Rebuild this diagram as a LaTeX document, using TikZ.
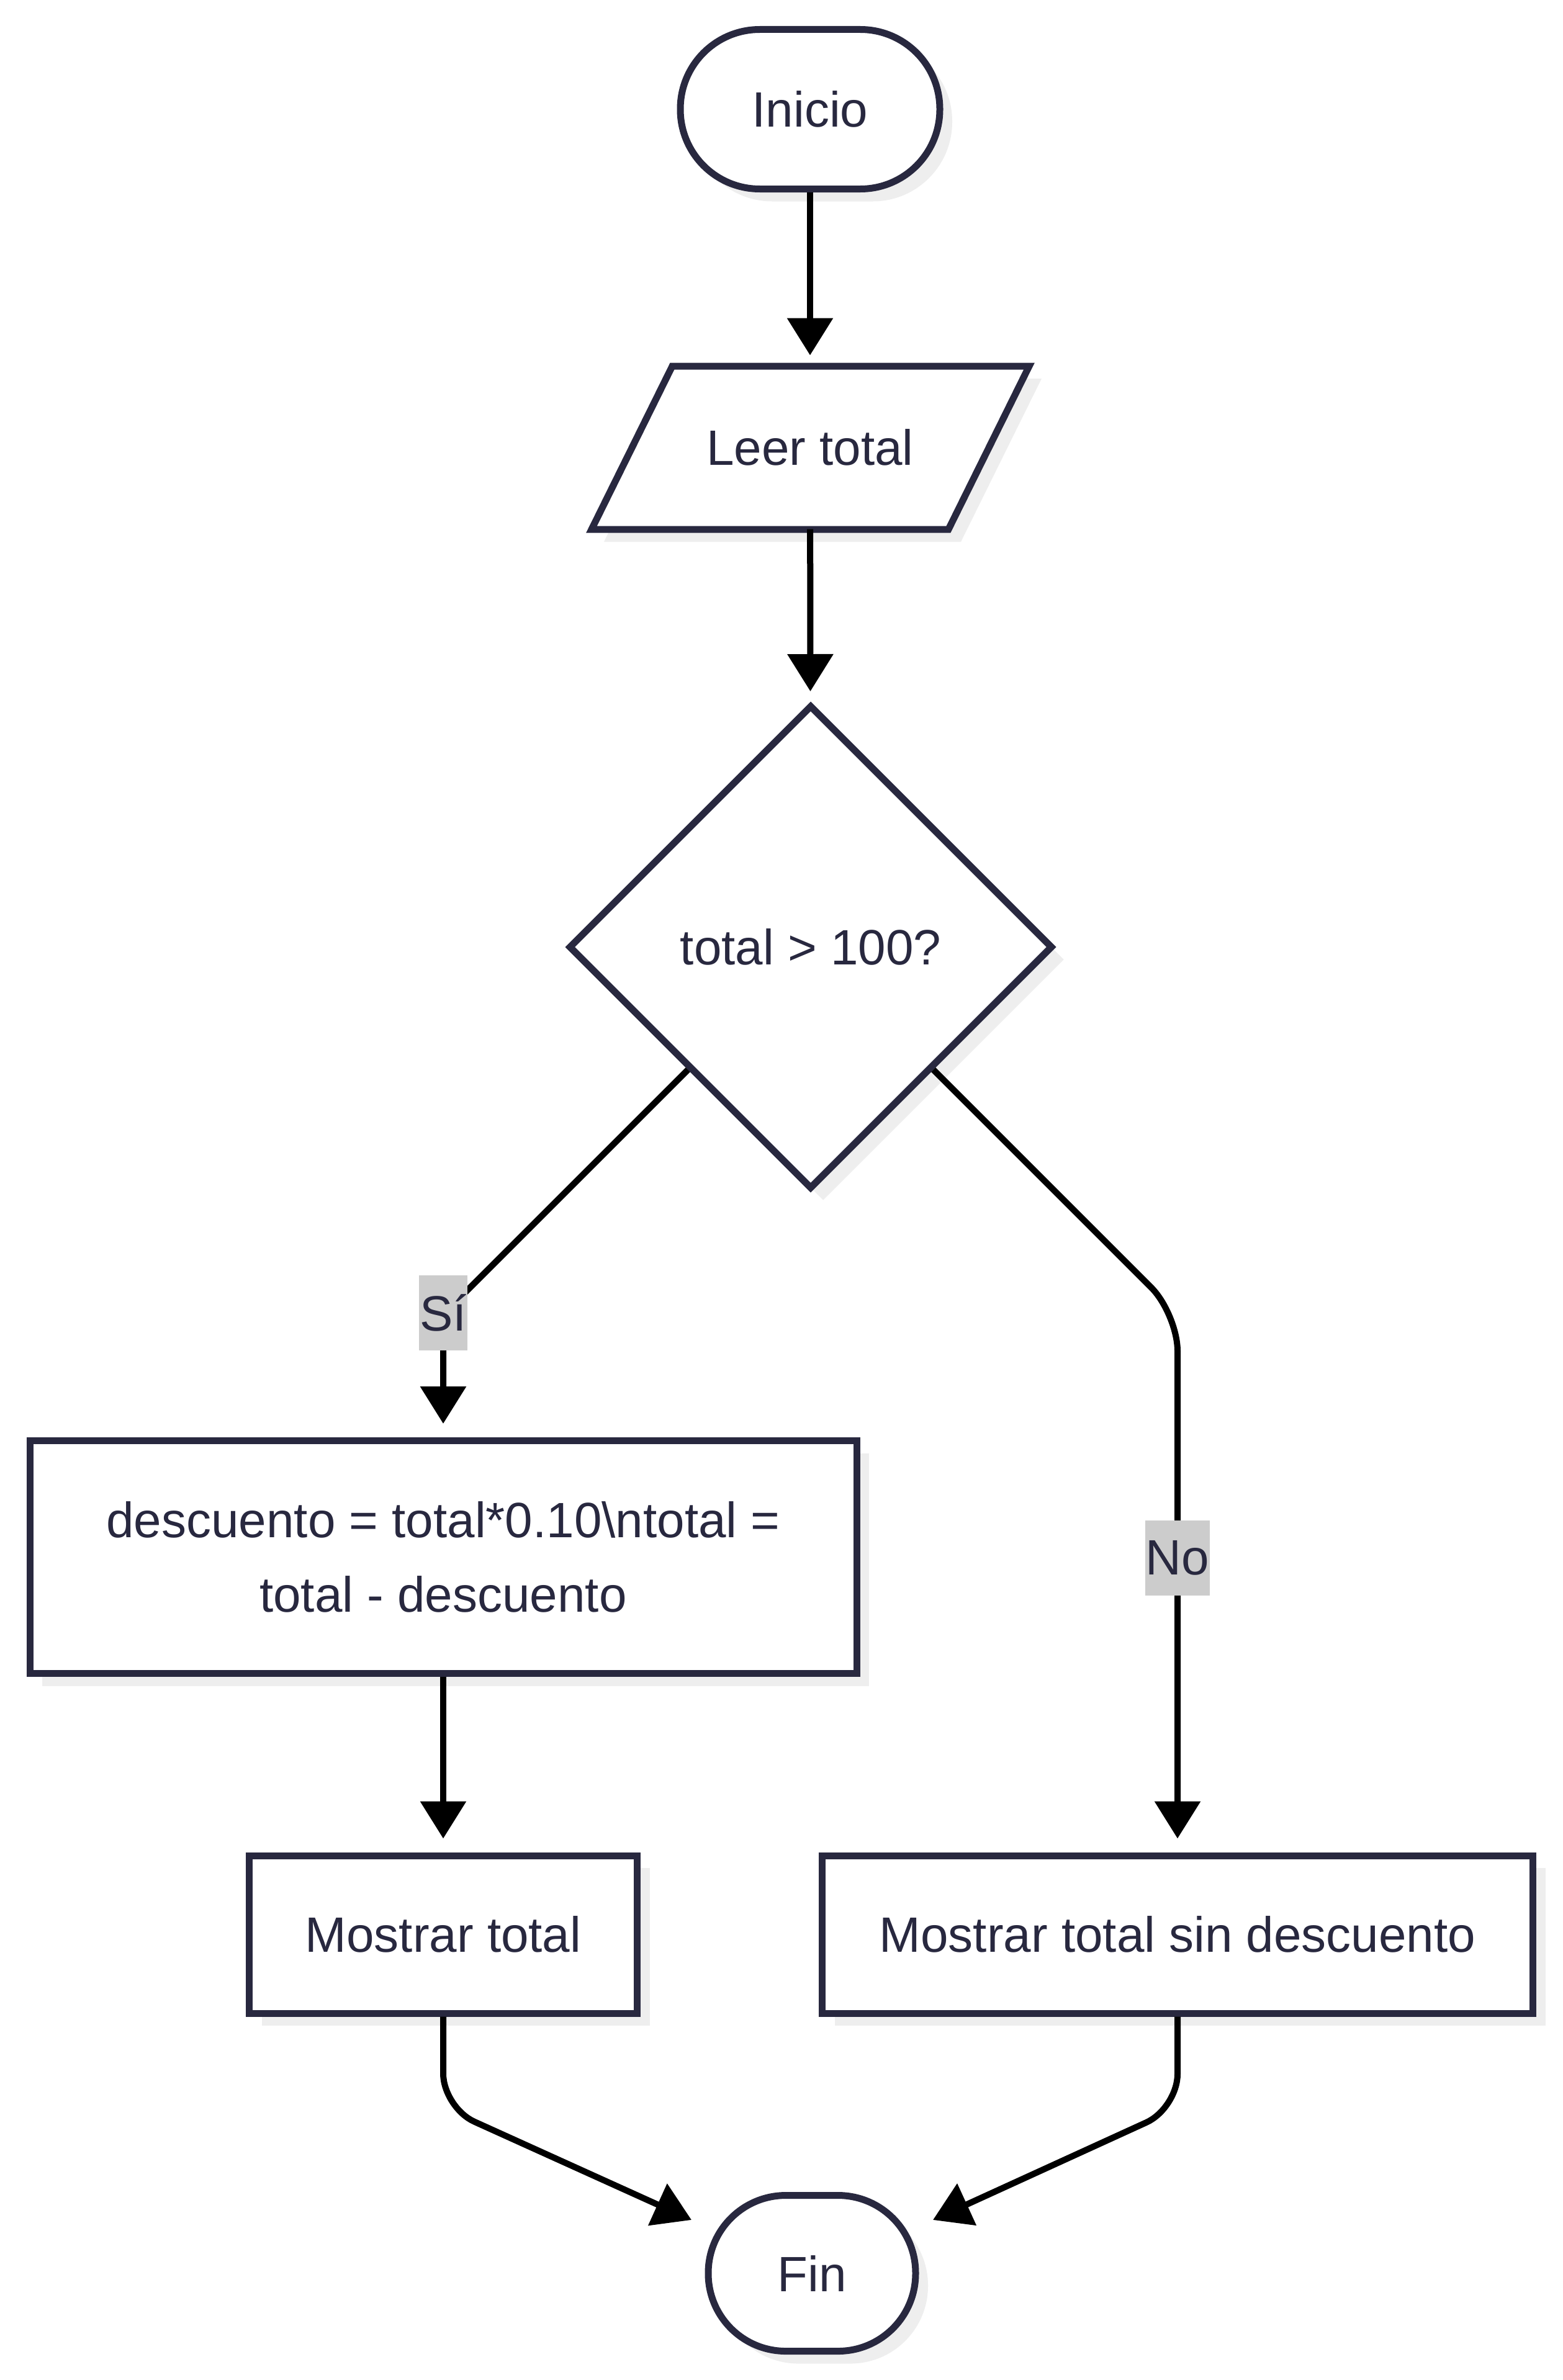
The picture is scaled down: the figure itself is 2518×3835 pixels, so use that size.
\documentclass[tikz,border=0pt]{standalone}
\usepackage{fontspec}
\setmainfont{Liberation Sans}
\usetikzlibrary{arrows.meta,shapes.geometric,shadows,calc}
\definecolor{mmdark}{HTML}{28283F}
\definecolor{lblgray}{HTML}{CCCCCC}
\definecolor{shadowcol}{HTML}{EEEEEE}
\begin{document}
\begin{tikzpicture}[x=1pt,y=-1pt,
  every node/.style={font=\fontsize{80pt}{120pt}\selectfont, text=mmdark},
  box/.style={draw=mmdark, line width=11pt, fill=white, inner sep=0pt, align=center,
    drop shadow={shadow xshift=20pt, shadow yshift=-20pt, fill=shadowcol, opacity=1}},
  edge/.style={draw=black, line width=10pt, -{Triangle[length=60pt,width=72pt]}},
  lbl/.style={fill=lblgray, inner xsep=1pt, inner ysep=0pt, minimum height=121pt}
]
\useasboundingbox (0,0) rectangle (2518,3835);
\fill[white] (0,0) rectangle (2518,3835);

% Inicio
\node[box, rounded corners=128pt, minimum width=418pt, minimum height=257pt] (inicio) at (1305,176) {Inicio};

% Leer total (parallelogram)
\coordinate (p1) at (1083,590);
\coordinate (p2) at (1658,590);
\coordinate (p3) at (1528,853);
\coordinate (p4) at (953,853);
\fill[shadowcol] (1103,610) -- (1678,610) -- (1548,873) -- (973,873) -- cycle;
\draw[draw=mmdark, line width=11pt, fill=white, line join=miter] (p1) -- (p2) -- (p3) -- (p4) -- cycle;
\node[minimum width=575pt, minimum height=263pt, inner sep=0pt, outer sep=0pt] (leer) at (1305,721) {Leer total};

% Decision
\node[box, diamond, aspect=1, minimum width=780pt, minimum height=780pt] (dec) at (1306,1526) {total > 100?};

% Process boxes
\node[box, minimum width=1332pt, minimum height=375pt] (desc) at (714,2509)
  {descuento = total*0.10\textbackslash ntotal =\\total - descuento};
\node[box, minimum width=625pt, minimum height=254pt] (mt) at (714,3117) {Mostrar total};
\node[box, minimum width=1145pt, minimum height=254pt] (mr) at (1897,3117) {Mostrar total sin descuento};

% Fin
\node[box, rounded corners=125pt, minimum width=334pt, minimum height=251pt] (fin) at (1308,3663) {Fin};

% helper coordinates
\coordinate (bendL) at (714,2118);
\coordinate (bendR) at (1897,2117);
\coordinate (bendBL) at (714,3396);
\coordinate (bendBR) at (1897,3397);
\coordinate (finL) at ($(fin.center)+(-194,-86)$);
\coordinate (finR) at ($(fin.center)+(195,-86)$);

% Edges
\draw[edge, shorten >=17pt] (inicio) -- (leer);
\draw[edge, shorten >=17pt] (leer) -- (dec);
\draw[edge, rounded corners=45pt, shorten >=22pt] ($(dec.south)!0.5!(dec.west)$) -- (bendL) -- (desc.north);
\draw[edge, rounded corners=60pt, shorten >=22pt] ($(dec.south)!0.5!(dec.east)$) -- (bendR) -- (mr.north);
\draw[edge, shorten >=22pt] (desc) -- (mt);
\draw[edge, rounded corners=55pt] (mt.south) -- (bendBL) -- (finL);
\draw[edge, rounded corners=55pt] (mr.south) -- (bendBR) -- (finR);

% Edge labels
\node[lbl] (si) at (714,2115) {Sí};
\node[lbl] (no) at (1897,2510) {No};
\end{tikzpicture}
\end{document}
